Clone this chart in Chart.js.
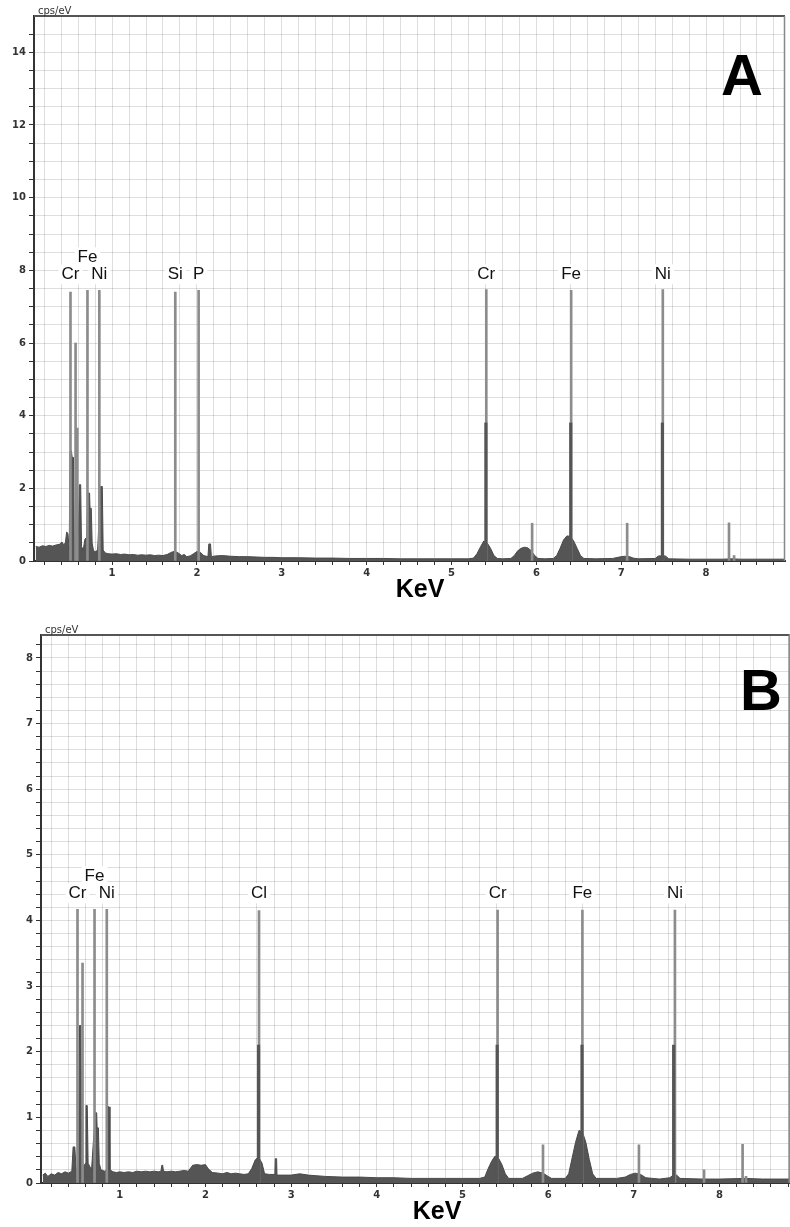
<!DOCTYPE html>
<html>
<head>
<meta charset="utf-8">
<script src="https://cdn.jsdelivr.net/npm/chart.js@4.4.0/dist/chart.umd.min.js"></script>
<style>
    html, body { margin: 0; padding: 0; background: #fff; }
    canvas { display: block; }
</style>
</head>
<body>
<canvas id="chartA" width="790" height="605"></canvas>
<canvas id="chartB" width="790" height="622"></canvas>
<script>
// ---- panel A ----
const energyA = [0.10, 0.14, 0.18, 0.22, 0.26, 0.30, 0.34, 0.38, 0.41, 0.43, 0.45, 0.465, 0.48, 0.495,
    0.505, 0.52, 0.53, 0.545, 0.555, 0.575, 0.60, 0.615, 0.63, 0.64, 0.66, 0.68, 0.70, 0.715, 0.735,
    0.74, 0.755, 0.765, 0.78, 0.80, 0.83, 0.865, 0.885, 0.895, 0.92, 0.96, 1.00, 1.05, 1.10, 1.15,
    1.20, 1.25, 1.30, 1.35, 1.40, 1.45, 1.50, 1.55, 1.60, 1.65, 1.70, 1.74, 1.78, 1.82, 1.85, 1.88,
    1.92, 1.96, 2.00, 2.04, 2.08, 2.13, 2.14, 2.16, 2.17, 2.22, 2.30, 2.40, 2.50, 2.60, 2.70, 2.80,
    2.90, 3.00, 3.20, 3.40, 3.60, 3.80, 4.00, 4.20, 4.40, 4.60, 4.80, 5.00, 5.20, 5.26, 5.30, 5.34,
    5.38, 5.42, 5.46, 5.50, 5.54, 5.60, 5.70, 5.74, 5.78, 5.82, 5.86, 5.90, 5.94, 5.98, 6.02, 6.10,
    6.20, 6.24, 6.28, 6.32, 6.36, 6.40, 6.44, 6.48, 6.52, 6.56, 6.70, 6.90, 6.96, 7.00, 7.04, 7.10,
    7.14, 7.20, 7.40, 7.44, 7.52, 7.56, 7.80, 8.00, 8.20, 8.30, 8.40, 8.60, 8.93];
const countsA = [0.40, 0.38, 0.42, 0.40, 0.43, 0.41, 0.44, 0.46, 0.52, 0.45, 0.50, 0.80, 0.75, 0.30,
    3.03, 3.03, 2.85, 2.85, 0.45, 0.40, 0.40, 2.10, 2.10, 0.40, 0.30, 0.60, 0.65, 1.87, 1.87,
    1.45, 1.45, 0.50, 0.30, 0.25, 0.30, 2.05, 2.05, 0.30, 0.22, 0.20, 0.19, 0.20, 0.18, 0.19,
    0.17, 0.18, 0.16, 0.17, 0.16, 0.17, 0.15, 0.16, 0.15, 0.18, 0.24, 0.27, 0.22, 0.15, 0.18, 0.12,
    0.14, 0.20, 0.26, 0.24, 0.15, 0.12, 0.47, 0.47, 0.12, 0.14, 0.15, 0.13, 0.12, 0.12, 0.11, 0.10,
    0.10, 0.09, 0.09, 0.08, 0.08, 0.07, 0.07, 0.07, 0.06, 0.06, 0.06, 0.06, 0.06, 0.08, 0.20, 0.38,
    0.55, 0.50, 0.35, 0.15, 0.07, 0.06, 0.07, 0.15, 0.28, 0.35, 0.38, 0.36, 0.28, 0.15, 0.07, 0.06,
    0.07, 0.15, 0.35, 0.58, 0.69, 0.68, 0.55, 0.35, 0.15, 0.07, 0.06, 0.07, 0.10, 0.12, 0.13, 0.12,
    0.08, 0.06, 0.07, 0.14, 0.14, 0.06, 0.05, 0.05, 0.05, 0.06, 0.05, 0.05, 0.05];
const markerKeVA = [0.51, 0.57, 0.59, 0.71, 0.85, 1.745, 2.02, 5.41, 5.95, 6.41, 7.07, 7.49, 8.27, 8.33];
const markerHeightA = [7.40, 6.00, 3.66, 7.45, 7.45, 7.40, 7.45, 7.47, 1.04, 7.45, 1.04, 7.47, 1.05, 0.15];
const halfKeVA = [5.405, 6.405, 7.485];
const halfHeightA = [3.80, 3.80, 3.80];
const elementsA = ["Cr", "Fe", "Ni", "Si", "P", "Cr", "Fe", "Ni"];
const elementKeVA = [0.51, 0.71, 0.85, 1.745, 2.02, 5.41, 6.41, 7.49];

// ---- panel B ----
const energyB = [0.10, 0.13, 0.16, 0.20, 0.24, 0.28, 0.32, 0.36, 0.40, 0.44, 0.455, 0.475, 0.49, 0.52,
    0.53, 0.545, 0.555, 0.575, 0.60, 0.605, 0.62, 0.63, 0.65, 0.67, 0.685, 0.715, 0.73, 0.735, 0.75,
    0.76, 0.78, 0.82, 0.86, 0.862, 0.875, 0.885, 0.92, 0.96, 1.00, 1.05, 1.10, 1.15, 1.20, 1.25,
    1.30, 1.35, 1.40, 1.45, 1.48, 1.49, 1.50, 1.51, 1.55, 1.60, 1.65, 1.70, 1.75, 1.80, 1.85, 1.90,
    1.95, 2.00, 2.03, 2.08, 2.15, 2.20, 2.25, 2.30, 2.35, 2.40, 2.45, 2.50, 2.54, 2.58, 2.62, 2.66,
    2.69, 2.75, 2.81, 2.815, 2.83, 2.835, 2.90, 3.00, 3.10, 3.20, 3.30, 3.40, 3.60, 3.80, 4.00, 4.20,
    4.40, 4.60, 4.80, 5.00, 5.20, 5.26, 5.30, 5.34, 5.38, 5.42, 5.46, 5.50, 5.54, 5.70, 5.76, 5.82,
    5.88, 5.94, 6.00, 6.04, 6.20, 6.24, 6.28, 6.32, 6.36, 6.40, 6.44, 6.48, 6.52, 6.56, 6.80, 6.90,
    6.96, 7.02, 7.08, 7.14, 7.30, 7.42, 7.46, 7.50, 7.54, 7.80, 8.00, 8.30, 8.50, 8.85];
const countsB = [0.12, 0.15, 0.10, 0.14, 0.12, 0.16, 0.14, 0.17, 0.15, 0.18, 0.55, 0.55, 0.20, 0.25,
    2.40, 2.40, 0.30, 0.25, 0.30, 1.18, 1.18, 0.30, 0.25, 0.20, 0.50, 1.07, 1.07, 0.84, 0.84,
    0.30, 0.20, 0.18, 0.20, 1.16, 1.16, 0.20, 0.17, 0.16, 0.17, 0.16, 0.17, 0.16, 0.18, 0.17,
    0.18, 0.17, 0.18, 0.17, 0.18, 0.27, 0.27, 0.18, 0.17, 0.18, 0.17, 0.18, 0.19, 0.18, 0.27, 0.28,
    0.27, 0.28, 0.22, 0.16, 0.15, 0.14, 0.16, 0.14, 0.15, 0.14, 0.13, 0.14, 0.22, 0.35, 0.40, 0.30,
    0.14, 0.13, 0.13, 0.37, 0.37, 0.12, 0.12, 0.12, 0.14, 0.12, 0.11, 0.10, 0.09, 0.09, 0.08, 0.08,
    0.07, 0.07, 0.07, 0.07, 0.07, 0.09, 0.22, 0.33, 0.41, 0.38, 0.28, 0.14, 0.07, 0.07, 0.11, 0.15,
    0.17, 0.15, 0.10, 0.07, 0.07, 0.14, 0.38, 0.62, 0.80, 0.78, 0.62, 0.36, 0.14, 0.07, 0.07, 0.09,
    0.13, 0.15, 0.13, 0.08, 0.06, 0.08, 0.12, 0.12, 0.07, 0.06, 0.06, 0.07, 0.06, 0.06];
const markerKeVB = [0.506, 0.565, 0.705, 0.848, 2.625, 5.41, 5.94, 6.40, 7.06, 7.48, 7.82, 8.27, 8.31];
const markerHeightB = [4.17, 3.35, 4.17, 4.17, 4.15, 4.16, 0.58, 4.16, 0.58, 4.16, 0.20, 0.59, 0.10];
const halfKeVB = [2.62, 5.405, 6.395, 7.465];
const halfHeightB = [2.10, 2.10, 2.10, 2.10];
const elementsB = ["Cr", "Fe", "Ni", "Cl", "Cr", "Fe", "Ni"];
const elementKeVB = [0.506, 0.705, 0.848, 2.625, 5.41, 6.40, 7.48];

const pts = (xs, ys) => xs.map((x, i) => ({ x: x, y: ys[i] }));
const isInt = (v) => Math.abs(v - Math.round(v)) < 1e-6;

// element labels above the marker lines, raised a row when they collide
const elementLabels = {
    id: "elementLabels",
    afterDatasetsDraw(chart, args, opts) {
        const ctx = chart.ctx;
        const xs = chart.scales.x, ys = chart.scales.y;
        ctx.save();
        ctx.font = "17px 'Liberation Sans', Arial, sans-serif";
        ctx.textAlign = "center";
        ctx.textBaseline = "middle";
        let prev = null;
        opts.names.forEach((name, i) => {
            const w = ctx.measureText(name).width;
            const px = xs.getPixelForValue(opts.keV[i]);
            let py = ys.getPixelForValue(opts.level) - 16;
            if (prev && px - prev < w + 2) {
                py -= 17;
                prev = null;
            } else {
                prev = px;
            }
            ctx.fillStyle = "#fff";
            ctx.fillRect(px - w / 2 - 3, py - 10, w + 6, 20);
            ctx.fillStyle = "#111";
            ctx.fillText(name, px, py);
        });
        ctx.restore();
    },
};

const frame = {
    id: "frame",
    afterDraw(chart, args, opts) {
        const ctx = chart.ctx;
        const a = chart.chartArea;
        ctx.save();
        ctx.strokeStyle = "#555";
        ctx.lineWidth = 2;
        ctx.beginPath();
        ctx.moveTo(a.left, a.top);
        ctx.lineTo(a.right, a.top);
        ctx.stroke();
        ctx.strokeStyle = "#888";
        ctx.lineWidth = 1.5;
        ctx.beginPath();
        ctx.moveTo(a.right - 0.5, a.top);
        ctx.lineTo(a.right - 0.5, a.bottom);
        ctx.stroke();

        ctx.fillStyle = "#333";
        ctx.font = "10px 'DejaVu Sans', sans-serif";
        ctx.textAlign = "left";
        ctx.textBaseline = "bottom";
        ctx.fillText("cps/eV", a.left + 4, a.top);

        ctx.fillStyle = "#000";
        ctx.font = "bold 25px 'Liberation Sans', Arial, sans-serif";
        ctx.textAlign = "center";
        ctx.textBaseline = "middle";
        ctx.fillText("KeV", opts.titleX, a.bottom + 29);

        ctx.font = "bold 58px 'Liberation Sans', Arial, sans-serif";
        ctx.fillText(opts.letter, opts.letterX, a.top + opts.letterDy);
        ctx.restore();
    },
};

function makeSpectrum(id, c) {
    const tickFont = { family: "'DejaVu Sans', sans-serif", size: 10, weight: "bold" };
    new Chart(document.getElementById(id), {
        type: "line",
        data: {
            datasets: [
                {
                    type: "bar",
                    data: pts(c.halfKeV, c.halfHeight),
                    backgroundColor: "#555",
                    barThickness: 2.5,
                    grouped: false,
                    order: 0,
                },
                {
                    type: "bar",
                    data: pts(c.markerKeV, c.markerHeight),
                    backgroundColor: "#8c8c8c",
                    barThickness: 2,
                    grouped: false,
                    order: 1,
                },
                {
                    data: pts(c.energy, c.counts),
                    borderColor: "#4a4a4a",
                    backgroundColor: "#555",
                    borderWidth: 1,
                    pointRadius: 0,
                    tension: 0,
                    fill: "origin",
                    order: 2,
                },
            ],
        },
        options: {
            responsive: false,
            animation: false,
            layout: { padding: { top: c.padTop, right: c.padRight, left: 0, bottom: 0 } },
            plugins: {
                legend: { display: false },
                tooltip: { enabled: false },
                elementLabels: { names: c.elements, keV: c.elementKeV, level: c.labelLevel },
                frame: { titleX: c.titleX, letter: c.letter, letterX: c.letterX, letterDy: c.letterDy },
            },
            scales: {
                x: {
                    type: "linear",
                    min: c.xMin,
                    max: c.xMax,
                    offset: false,
                    afterFit: (s) => { s.height = c.xHeight; },
                    afterBuildTicks: (s) => {
                        const t = [];
                        for (let v = 0.2; v < s.max - 0.01; v += 0.2) t.push({ value: Math.round(v * 10) / 10 });
                        s.ticks = t;
                    },
                    grid: { color: "rgba(0,0,0,0.13)", tickColor: "#333", tickLength: 4, offset: false },
                    border: { color: "#333", width: 2 },
                    ticks: {
                        autoSkip: false,
                        maxRotation: 0,
                        padding: 2,
                        color: "#333",
                        font: tickFont,
                        callback: (v) => (isInt(v) ? String(Math.round(v)) : ""),
                    },
                },
                y: {
                    min: 0,
                    max: c.yMax,
                    afterFit: (s) => { s.width = c.yWidth; },
                    afterBuildTicks: (s) => {
                        const t = [];
                        for (let k = 0; k * c.yStep <= c.yMax - 0.01; k++) t.push({ value: Math.round(k * c.yStep * 100) / 100 });
                        s.ticks = t;
                    },
                    grid: { color: "rgba(0,0,0,0.13)", tickColor: "#333", tickLength: 5 },
                    border: { color: "#333", width: 2 },
                    ticks: {
                        autoSkip: false,
                        padding: 3,
                        color: "#333",
                        font: tickFont,
                        callback: (v) => (isInt(v / c.yLabelEvery) ? String(Math.round(v)) : ""),
                    },
                },
            },
        },
        plugins: [elementLabels, frame],
    });
}

makeSpectrum("chartA", {
    energy: energyA, counts: countsA,
    markerKeV: markerKeVA, markerHeight: markerHeightA,
    halfKeV: halfKeVA, halfHeight: halfHeightA,
    elements: elementsA, elementKeV: elementKeVA, labelLevel: 7.45,
    xMin: 0.08, xMax: 8.93, yMax: 15, yStep: 0.5, yLabelEvery: 2,
    padTop: 16, padRight: 5, xHeight: 44, yWidth: 34,
    titleX: 420, letter: "A", letterX: 742, letterDy: 63,
});

makeSpectrum("chartB", {
    energy: energyB, counts: countsB,
    markerKeV: markerKeVB, markerHeight: markerHeightB,
    halfKeV: halfKeVB, halfHeight: halfHeightB,
    elements: elementsB, elementKeV: elementKeVB, labelLevel: 4.17,
    xMin: 0.08, xMax: 8.82, yMax: 8.35, yStep: 0.2, yLabelEvery: 1,
    padTop: 30, padRight: 0, xHeight: 44, yWidth: 41,
    titleX: 437, letter: "B", letterX: 761, letterDy: 59,
});
</script>
</body>
</html>
